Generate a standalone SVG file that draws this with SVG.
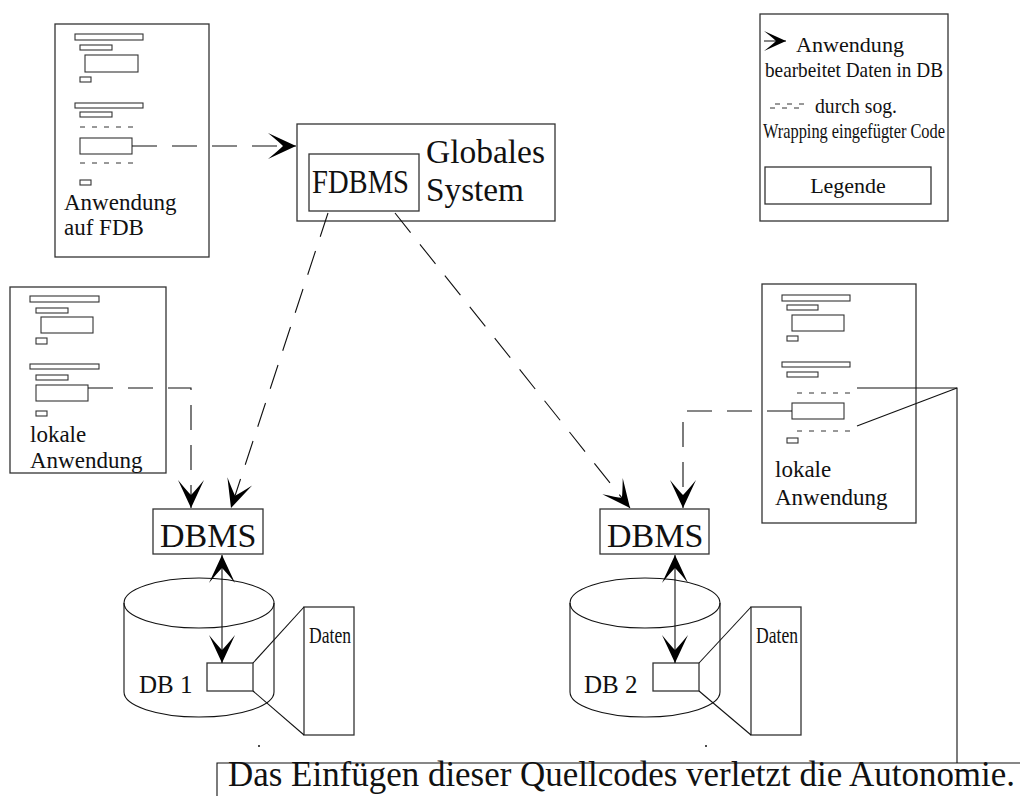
<svg xmlns="http://www.w3.org/2000/svg" width="1020" height="796" viewBox="0 0 1020 796">
  <style>
    .box { fill: #fff; stroke: #333; stroke-width: 1.3; }
    .bar { fill: none; stroke: #333; stroke-width: 1.1; }
    .wrap { fill: none; stroke: #333; stroke-width: 1; stroke-dasharray: 5 7; }
    .line { fill: none; stroke: #111; stroke-width: 1.1; }
    .dash { fill: none; stroke: #111; stroke-width: 1.1; stroke-dasharray: 25 15; }
    text { font-family: "Liberation Serif", "Times New Roman", serif; fill: #111; }
    .t23 { font-size: 23px; }
    .leg { font-size: 22px; }
  </style>
  <defs>
    <marker id="head" viewBox="-30 -15 32 30" refX="0" refY="0" markerWidth="32" markerHeight="30" markerUnits="userSpaceOnUse" orient="auto-start-reverse">
      <path d="M0,0 L-28,-13 Q-17,-4 -13,0 Q-17,4 -28,13 Z" fill="#000" stroke="none"/>
    </marker>
    <marker id="head-small" viewBox="-26 -13 28 26" refX="0" refY="0" markerWidth="28" markerHeight="26" markerUnits="userSpaceOnUse" orient="auto">
      <path d="M0,0 L-22,-10 Q-13,-3 -10,0 Q-13,3 -22,10 Z" fill="#000" stroke="none"/>
    </marker>
  </defs>
  <rect width="1020" height="796" fill="#fff"/>

  <!-- application on the federated database -->
  <g id="app-fdb">
    <rect class="box" x="55" y="24" width="154" height="233"/>
    <rect class="bar" x="75" y="34" width="68" height="6"/>
    <rect class="bar" x="80" y="45" width="32" height="5"/>
    <rect class="bar" x="85" y="55" width="53" height="17"/>
    <rect class="bar" x="80" y="77" width="11" height="5"/>
    <rect class="bar" x="75" y="103" width="68" height="5"/>
    <rect class="bar" x="80" y="112" width="32" height="5"/>
    <line class="wrap" x1="80" y1="127" x2="138" y2="127"/>
    <rect class="bar" x="80" y="138" width="52" height="16"/>
    <line class="wrap" x1="80" y1="163" x2="138" y2="163"/>
    <rect class="bar" x="80" y="180" width="11" height="5"/>
    <text class="t23" x="64" y="210">Anwendung</text>
    <text class="t23" x="64" y="235">auf FDB</text>
  </g>

  <!-- global system with FDBMS -->
  <g id="global-system">
    <rect class="box" x="297" y="124" width="258" height="97"/>
    <rect class="box" x="309" y="154" width="110" height="57"/>
    <text x="312" y="193" font-size="33" textLength="97" lengthAdjust="spacingAndGlyphs">FDBMS</text>
    <text x="426" y="163" font-size="33" textLength="119" lengthAdjust="spacingAndGlyphs">Globales</text>
    <text x="426" y="201" font-size="33" textLength="98" lengthAdjust="spacingAndGlyphs">System</text>
  </g>

  <!-- legend -->
  <g id="legend">
    <rect class="box" x="760" y="14" width="188" height="207"/>
    <line class="line" x1="764" y1="41" x2="786" y2="41" stroke-dasharray="13 3" marker-end="url(#head-small)"/>
    <text class="leg" x="796" y="52" textLength="108" lengthAdjust="spacingAndGlyphs">Anwendung</text>
    <text class="leg" x="765" y="77" textLength="178" lengthAdjust="spacingAndGlyphs">bearbeitet Daten in DB</text>
    <line class="wrap" x1="770" y1="108" x2="806" y2="108" stroke-dasharray="5 5"/>
    <line class="wrap" x1="775" y1="104" x2="806" y2="104" stroke-dasharray="3 7"/>
    <text class="leg" x="815" y="113" textLength="82" lengthAdjust="spacingAndGlyphs">durch sog.</text>
    <text class="leg" x="763" y="138" textLength="182" lengthAdjust="spacingAndGlyphs">Wrapping eingefügter Code</text>
    <rect class="box" x="765" y="167" width="166" height="37"/>
    <text x="848" y="193" font-size="22" text-anchor="middle">Legende</text>
  </g>

  <!-- local application 1 -->
  <g id="local-app-1">
    <rect class="box" x="10" y="287" width="156" height="186"/>
    <rect class="bar" x="30" y="296" width="69" height="6"/>
    <rect class="bar" x="36" y="308" width="32" height="5"/>
    <rect class="bar" x="41" y="317" width="52" height="16"/>
    <rect class="bar" x="36" y="338" width="11" height="6"/>
    <rect class="bar" x="30" y="364" width="69" height="5"/>
    <rect class="bar" x="36" y="375" width="32" height="5"/>
    <rect class="bar" x="36" y="385" width="52" height="16"/>
    <rect class="bar" x="36" y="411" width="11" height="5"/>
    <text class="t23" x="30" y="442">lokale</text>
    <text class="t23" x="30" y="468">Anwendung</text>
  </g>

  <!-- local application 2 (wrapped) -->
  <g id="local-app-2">
    <rect class="box" x="762" y="284" width="154" height="239"/>
    <rect class="bar" x="782" y="295" width="68" height="6"/>
    <rect class="bar" x="787" y="305" width="31" height="5"/>
    <rect class="bar" x="792" y="315" width="52" height="16"/>
    <rect class="bar" x="787" y="336" width="11" height="5"/>
    <rect class="bar" x="782" y="362" width="68" height="5"/>
    <rect class="bar" x="787" y="372" width="31" height="5"/>
    <line class="wrap" x1="797" y1="393" x2="853" y2="393"/>
    <rect class="bar" x="792" y="403" width="52" height="16"/>
    <line class="wrap" x1="797" y1="431" x2="853" y2="431"/>
    <rect class="bar" x="787" y="438" width="11" height="5"/>
    <text class="t23" x="775" y="477">lokale</text>
    <text class="t23" x="775" y="505">Anwendung</text>
  </g>

  <!-- DBMS 1 with database DB 1 -->
  <g id="dbms-1">
    <rect class="box" x="153" y="509" width="110" height="45"/>
    <text x="160" y="547" font-size="34">DBMS</text>
  </g>
  <g id="db-1">
    <ellipse class="line" cx="199" cy="603" rx="75" ry="25"/>
    <path class="line" d="M124,603 V692 A75,25 0 0 0 274,692 V603"/>
    <rect class="box" x="207" y="663" width="46" height="28"/>
    <text x="139" y="693" font-size="25">DB 1</text>
  </g>
  <g id="daten-1">
    <rect class="box" x="304" y="607" width="50" height="128"/>
    <line class="line" x1="253" y1="663" x2="304" y2="607"/>
    <line class="line" x1="253" y1="691" x2="304" y2="735"/>
    <text x="309" y="643" font-size="24" textLength="42" lengthAdjust="spacingAndGlyphs">Daten</text>
  </g>

  <!-- DBMS 2 with database DB 2 -->
  <g id="dbms-2">
    <rect class="box" x="600" y="509" width="109" height="45"/>
    <text x="607" y="547" font-size="34">DBMS</text>
  </g>
  <g id="db-2">
    <ellipse class="line" cx="645" cy="603" rx="75" ry="25"/>
    <path class="line" d="M570,603 V692 A75,25 0 0 0 720,692 V603"/>
    <rect class="box" x="653" y="663" width="46" height="28"/>
    <text x="584" y="693" font-size="25">DB 2</text>
  </g>
  <g id="daten-2">
    <rect class="box" x="751" y="607" width="50" height="128"/>
    <line class="line" x1="699" y1="663" x2="751" y2="607"/>
    <line class="line" x1="699" y1="691" x2="751" y2="735"/>
    <text x="756" y="643" font-size="24" textLength="42" lengthAdjust="spacingAndGlyphs">Daten</text>
  </g>

  <!-- note about autonomy -->
  <g id="note">
    <path class="line" d="M217,796 V763 H1020"/>
    <text x="228" y="786" font-size="35" textLength="787" lengthAdjust="spacingAndGlyphs">Das Einfügen dieser Quellcodes verletzt die Autonomie.</text>
    <circle cx="259" cy="746" r="1" fill="#111"/>
    <circle cx="706" cy="746" r="1" fill="#111"/>
  </g>

  <!-- connectors -->
  <g id="connectors">
    <path class="dash" d="M132,146 H296" stroke-dasharray="27 14" marker-end="url(#head)"/>
    <path class="dash" d="M88,388 H191 V508" marker-end="url(#head)"/>
    <path class="dash" d="M328,213 L231,508" stroke-dasharray="24 14" marker-end="url(#head)"/>
    <path class="dash" d="M395,213 L630,508" stroke-dasharray="24 14" marker-end="url(#head)"/>
    <path class="dash" d="M792,411 H683 V508" stroke-dasharray="26 15" marker-end="url(#head)"/>
    <line class="line" x1="222" y1="555" x2="222" y2="663" marker-start="url(#head)" marker-end="url(#head)"/>
    <line class="line" x1="675" y1="555" x2="675" y2="663" marker-start="url(#head)" marker-end="url(#head)"/>
    <path class="line" d="M857,388 H957 V763"/>
    <path class="line" d="M857,426 L957,388"/>
  </g>
</svg>
